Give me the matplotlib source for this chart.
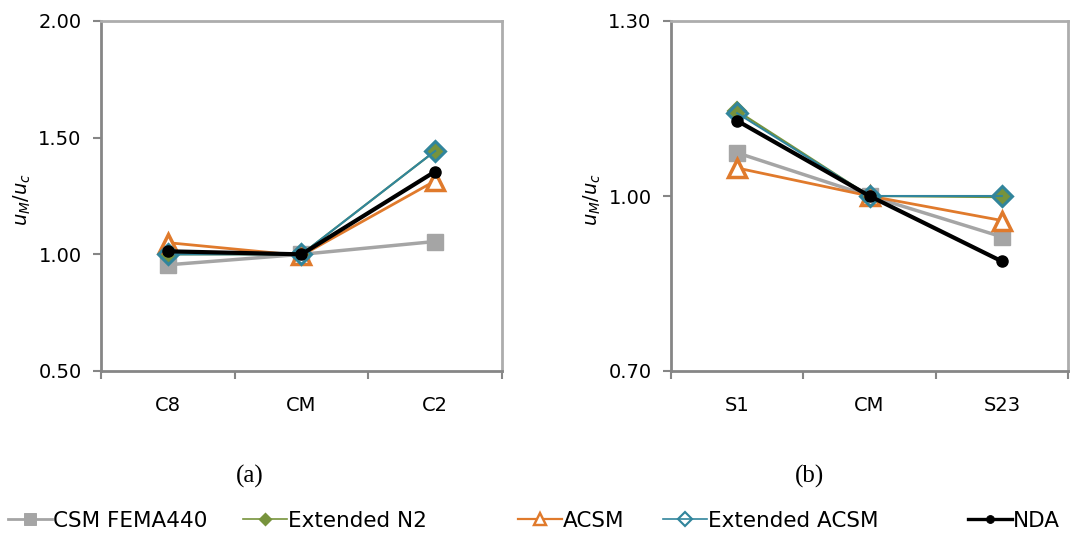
import matplotlib
matplotlib.use("Agg")
import matplotlib.pyplot as plt
from matplotlib.lines import Line2D

# ---- data ----
cats_a = ["C8", "CM", "C2"]
cats_b = ["S1", "CM", "S23"]
series_names = ["CSM FEMA440", "Extended N2", "ACSM", "Extended ACSM", "NDA"]

csm_a = [0.955, 1.00, 1.055]
n2_a = [1.00, 1.00, 1.443]
acsm_a = [1.05, 0.995, 1.315]
extacsm_a = [1.00, 1.00, 1.443]
nda_a = [1.013, 1.00, 1.355]

csm_b = [1.074, 1.00, 0.930]
n2_b = [1.146, 1.00, 0.998]
acsm_b = [1.048, 1.00, 0.958]
extacsm_b = [1.142, 1.00, 1.00]
nda_b = [1.129, 1.00, 0.888]

yticks_a = [0.50, 1.00, 1.50, 2.00]
yticks_b = [0.70, 1.00, 1.30]

styles = [
    dict(color="#A5A5A5", lw=2.5, marker="s", ms=12, mfc="#A5A5A5", mec="#A5A5A5", mew=1),
    dict(color="#77933C", lw=1.5, marker="D", ms=9, mfc="#77933C", mec="#77933C", mew=1.5),
    dict(color="#E07A2C", lw=2.0, marker="^", ms=13, mfc="white", mec="#E07A2C", mew=2.5),
    dict(color="#31859C", lw=1.5, marker="D", ms=10, mfc="none", mec="#31859C", mew=2.2),
    dict(color="black", lw=3.0, marker="o", ms=8, mfc="black", mec="black", mew=1),
]

plt.rcParams['font.family'] = ['DejaVu Sans']

fig = plt.figure(figsize=(10.7, 5.36), dpi=100)
ax_a = fig.add_axes([101/1070, 1-371/536, 401/1070, 350/536])
ax_b = fig.add_axes([671/1070, 1-371/536, 397/1070, 350/536])

def setup(ax, cats, data, yticks, ylim):
    x = list(range(len(cats)))
    handles = []
    for d, st in zip(data, styles):
        h, = ax.plot(x, d, **st)
        handles.append(h)
    ax.set_xlim(-0.5, len(cats) - 0.5)
    ax.set_ylim(*ylim)
    ax.set_yticks(yticks)
    ax.set_yticklabels([f"{v:.2f}" for v in yticks])
    ax.set_xticks(x)
    ax.set_xticklabels(cats)
    ax.set_xticks([i - 0.5 for i in range(len(cats) + 1)], minor=True)
    ax.tick_params(axis="x", which="major", length=0, pad=18, labelsize=14)
    ax.tick_params(axis="x", which="minor", length=6, width=1.5, color="#868686", direction="out")
    ax.tick_params(axis="y", length=6, width=1.5, color="#868686", direction="out", labelsize=14, pad=8)
    for s in ["left", "bottom"]:
        ax.spines[s].set_color("#868686")
        ax.spines[s].set_linewidth(2)
    for s in ["top", "right"]:
        ax.spines[s].set_color("#ADADAD")
        ax.spines[s].set_linewidth(2)
    return handles

handles = setup(ax_a, cats_a, [csm_a, n2_a, acsm_a, extacsm_a, nda_a], yticks_a, (0.5, 2.0))
setup(ax_b, cats_b, [csm_b, n2_b, acsm_b, extacsm_b, nda_b], yticks_b, (0.7, 1.3))

for xpos in [22, 592]:
    fig.text(xpos/1070, 1-200/536, r"$u_M/u_c$", rotation=90, ha="center", va="center", fontsize=14)

fig.text(250/1070, 1-476/536, "(a)", family="Liberation Serif", fontsize=18, ha="center", va="center")
fig.text(810/1070, 1-476/536, "(b)", family="Liberation Serif", fontsize=18, ha="center", va="center")

# legend marker centres (px) -> left edge of handle
leg_marker_x = [30, 265, 540, 685, 990]
handle_px = 44
fs = 15.5
for h, name, mx in zip(handles, series_names, leg_marker_x):
    proxy = Line2D([], [], color=h.get_color(), lw=h.get_linewidth() * 0.8, marker=h.get_marker(),
                   ms=h.get_markersize() * 0.7, mfc=h.get_markerfacecolor(), mec=h.get_markeredgecolor(),
                   mew=h.get_markeredgewidth() * 0.7)
    fig.legend([proxy], [name], loc="center left", bbox_to_anchor=((mx - handle_px/2)/1070, 1-521/536),
               frameon=False, fontsize=fs, handlelength=handle_px/(fs*100/72), handletextpad=0.05,
               borderaxespad=0, borderpad=0)

fig.savefig("out.png", dpi=100)
